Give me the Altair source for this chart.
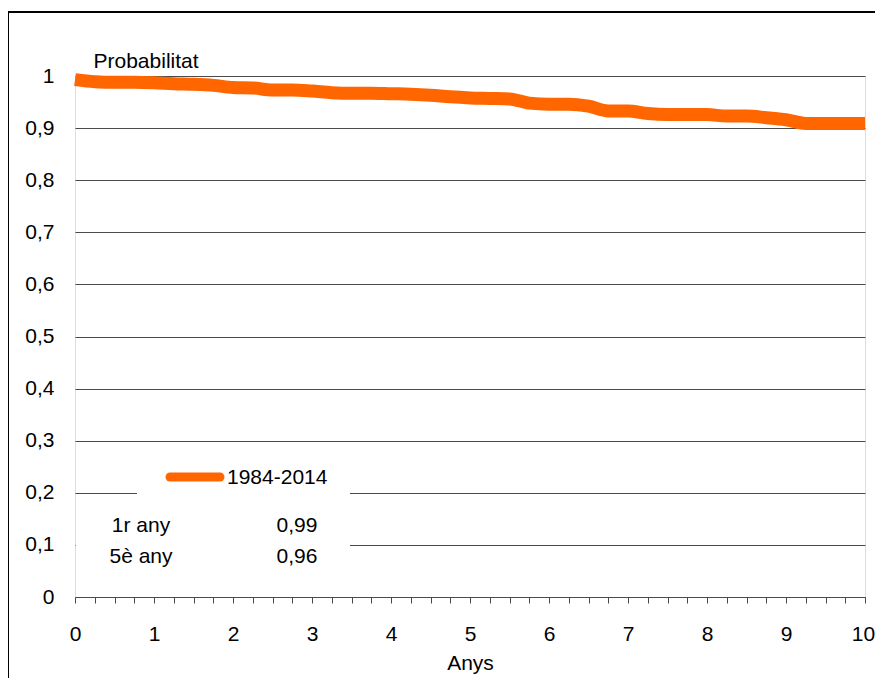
import altair as alt
import pandas as pd

# ---- data ----
years = [0, 0.25, 0.5, 0.75, 1.0, 1.25, 1.5, 1.75, 2.0, 2.25, 2.5, 2.75, 3.0, 3.25, 3.5, 3.75,
         4.0, 4.25, 4.5, 4.75, 5.0, 5.25, 5.5, 5.75, 6.0, 6.25, 6.5, 6.75, 7.0, 7.25, 7.5, 7.75,
         8.0, 8.25, 8.5, 8.75, 9.0, 9.25, 9.5, 9.75, 10.0]
prob = [0.993, 0.989, 0.988, 0.988, 0.987, 0.985, 0.984, 0.982, 0.978, 0.977, 0.973, 0.973,
        0.971, 0.968, 0.967, 0.967, 0.966, 0.965, 0.963, 0.960, 0.958, 0.957, 0.956, 0.948,
        0.946, 0.946, 0.942, 0.933, 0.933, 0.928, 0.926, 0.926, 0.926, 0.923, 0.923, 0.920,
        0.916, 0.909, 0.909, 0.909, 0.909]
series_name = "1984-2014"
table_rows = ["1r any", "5è any"]
table_vals = ["0,99", "0,96"]
x_ticks = [i * 0.25 for i in range(41)]
y_ticks = [i / 10 for i in range(11)]

df = pd.DataFrame({"Anys": years, "Probabilitat": prob})

FONT = "Liberation Sans"
FS = 21
ORANGE = "#FF6600"
GRID = "#4a4a4a"

W, H = 790, 521

line = alt.Chart(df).mark_line(
    color=ORANGE, strokeWidth=13, interpolate="monotone", strokeCap="butt"
).encode(
    x=alt.X("Anys:Q", scale=alt.Scale(domain=[0, 10], nice=False),
            axis=alt.Axis(values=x_ticks, title="Anys",
                          labelExpr="datum.value % 1 == 0 ? format(datum.value, 'd') : ''",
                          labelOverlap=False, labelFlush=False,
                          labelOffset=alt.condition("datum.value == 10", alt.value(-2), alt.value(0)),
                          grid=False, tickSize=6, tickColor=GRID, domainColor=GRID,
                          labelPadding=20, labelFont=FONT, labelFontSize=FS, labelColor="black",
                          titleFont=FONT, titleFontSize=FS, titleFontWeight="normal",
                          titleColor="black", titleBaseline="top", titleY=55)),
    y=alt.Y("Probabilitat:Q", scale=alt.Scale(domain=[0, 1], nice=False),
            axis=alt.Axis(values=y_ticks, title="Probabilitat",
                          labelExpr="replace(format(datum.value, '~g'), '.', ',')",
                          grid=True, gridColor=GRID, gridWidth=1, gridOpacity=1,
                          ticks=False, domain=False, labelPadding=21,
                          labelFont=FONT, labelFontSize=FS, labelColor="black",
                          titleFont=FONT, titleFontSize=FS, titleFontWeight="normal",
                          titleColor="black", titleAngle=0, titleAlign="left",
                          titleBaseline="alphabetic", titleX=18, titleY=-9)),
)

# white legend/table background covering gridlines
bg1 = alt.Chart().mark_rect(color="white").encode(
    x=alt.value(62), x2=alt.value(275), y=alt.value(386), y2=alt.value(424))
bg2 = alt.Chart().mark_rect(color="white").encode(
    x=alt.value(1), x2=alt.value(275), y=alt.value(424), y2=alt.value(494))

swatch = alt.Chart().mark_rule(color=ORANGE, strokeWidth=9, strokeCap="round").encode(
    x=alt.value(95), x2=alt.value(145), y=alt.value(401))
leg_text = alt.Chart().mark_text(font=FONT, fontSize=FS, align="left", baseline="middle",
                                 color="black").encode(
    x=alt.value(152), y=alt.value(402), text=alt.value(series_name))

row_texts = []
for i, (r, v) in enumerate(zip(table_rows, table_vals)):
    yb = [456, 487][i]
    row_texts.append(alt.Chart().mark_text(font=FONT, fontSize=FS, align="center",
                                           baseline="alphabetic", color="black").encode(
        x=alt.value(66), y=alt.value(yb), text=alt.value(r)))
    row_texts.append(alt.Chart().mark_text(font=FONT, fontSize=FS, align="center",
                                           baseline="alphabetic", color="black").encode(
        x=alt.value(222), y=alt.value(yb), text=alt.value(v)))

# outer frame (top and left edges visible)
frame_top = alt.Chart().mark_rule(color="black", strokeWidth=2).encode(
    x=alt.value(-67), x2=alt.value(820), y=alt.value(-64))
frame_left = alt.Chart().mark_rule(color="black", strokeWidth=2).encode(
    x=alt.value(-67), y=alt.value(-65), y2=alt.value(620))

chart = alt.layer(line, bg1, bg2, swatch, leg_text, *row_texts, frame_top, frame_left).properties(
    width=W, height=H,
    autosize=alt.AutoSizeParams(type="none"),
    padding={"left": 67, "top": 68, "right": 10, "bottom": 81},
).configure_view(stroke=None).configure(background="white")

chart.save("out.html", embed_options={"renderer": "svg", "actions": False})
